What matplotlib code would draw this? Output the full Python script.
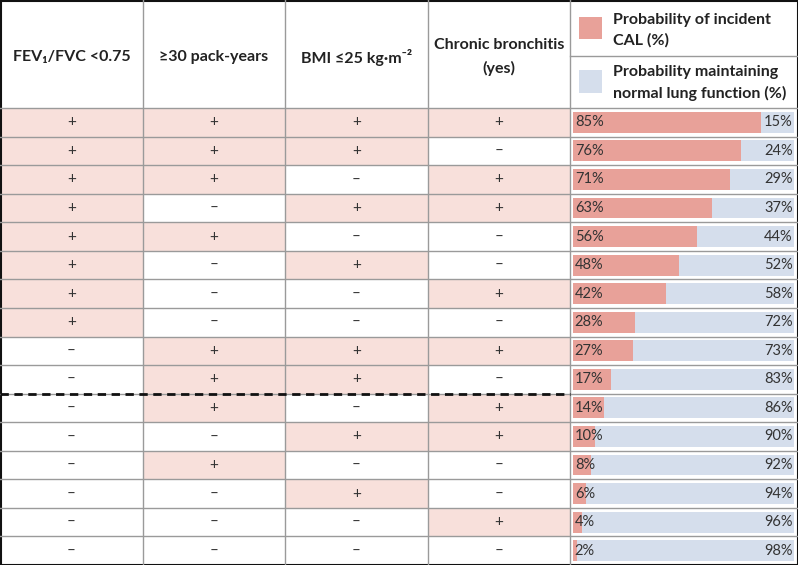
import numpy as np
import matplotlib.pyplot as plt
from matplotlib.patches import Rectangle

plt.rcParams['font.family'] = ['Lato', 'DejaVu Sans']

# table content
headers = ["FEV\u2081/FVC <0.75", "\u226530 pack-years", "BMI \u226425 kg\u00b7m\u207b\u00b2", "Chronic bronchitis\n(yes)"]
fev = [1, 1, 1, 1, 1, 1, 1, 1, 0, 0, 0, 0, 0, 0, 0, 0]
packyears = [1, 1, 1, 0, 1, 0, 0, 0, 1, 1, 1, 0, 1, 0, 0, 0]
bmi = [1, 1, 0, 1, 0, 1, 0, 0, 1, 1, 0, 1, 0, 1, 0, 0]
bronchitis = [1, 0, 1, 1, 0, 0, 1, 0, 1, 0, 1, 1, 0, 0, 1, 0]
p_cal = [85, 76, 71, 63, 56, 48, 42, 28, 27, 17, 14, 10, 8, 6, 4, 2]
legend_labels = ["Probability of incident\nCAL (%)", "Probability maintaining\nnormal lung function (%)"]

pink = '#E8A199'
blue = '#D5DEEC'
cell_pink = '#F8E0DB'
grid = '#9a9a9a'

W, H = 798, 565
col_x = [0, 143, 285, 428, 570, W]
head_h = 108
n = len(p_cal)
row_h = (H - head_h) / n

fig = plt.figure(figsize=(W / 100, H / 100), dpi=100)
ax = fig.add_axes([0, 0, 1, 1])
ax.set_xlim(0, W)
ax.set_ylim(H, 0)
ax.axis('off')

cols = [fev, packyears, bmi, bronchitis]
for j, col in enumerate(cols):
    x0, x1 = col_x[j], col_x[j + 1]
    ax.text((x0 + x1) / 2, head_h / 2 + 3, headers[j], ha='center', va='center',
            fontsize=11.5, fontweight='bold', color='#222222', linespacing=1.7)
    for i, v in enumerate(col):
        y0 = head_h + i * row_h
        if v:
            ax.add_patch(Rectangle((x0, y0), x1 - x0, row_h, facecolor=cell_pink, edgecolor='none'))
        ax.text((x0 + x1) / 2, y0 + row_h / 2, '+' if v else '\u2013', ha='center', va='center',
                fontsize=11, color='#333333')

# grid lines
for i in range(n):
    y = head_h + i * row_h
    ax.plot([0, W], [y, y], color=grid, lw=1)
ax.plot([570, W], [56, 56], color=grid, lw=1)
for x in col_x[1:-1]:
    ax.plot([x, x], [0, H], color=grid, lw=1)
ax.plot([0, 570], [head_h + 10 * row_h] * 2, color='#111111', lw=2, ls=(0, (3, 2)))
ax.add_patch(Rectangle((0.5, 0.5), W - 1, H - 1, fill=False, edgecolor='#111111', lw=1.5))

# legend
ax.add_patch(Rectangle((579, 17), 23, 22, facecolor=pink, edgecolor='none'))
ax.add_patch(Rectangle((579, 70), 23, 23, facecolor=blue, edgecolor='none'))
ax.text(613, 30, legend_labels[0], ha='left', va='center', fontsize=11.5,
        fontweight='bold', color='#222222', linespacing=1.5)
ax.text(613, 83, legend_labels[1], ha='left', va='center', fontsize=11.5,
        fontweight='bold', color='#222222', linespacing=1.5)

# bar column
bx0, bx1 = 573, 794
bax = fig.add_axes([bx0 / W, 0, (bx1 - bx0) / W, (H - head_h) / H])
bax.set_xlim(0, 100)
bax.set_ylim(n - 0.5, -0.5)
bax.axis('off')
ypos = np.arange(n)
p_cal = np.array(p_cal)
p_norm = 100 - p_cal
bax.barh(ypos, p_cal, height=0.73, color=pink)
bax.barh(ypos, p_norm, left=p_cal, height=0.73, color=blue)
for i in range(n):
    bax.text(0.8, i, f"{p_cal[i]}%", ha='left', va='center', fontsize=10.5, color='#333333')
    bax.text(99.5, i, f"{p_norm[i]}%", ha='right', va='center', fontsize=10.5, color='#333333')

fig.savefig('out.png', dpi=100)
